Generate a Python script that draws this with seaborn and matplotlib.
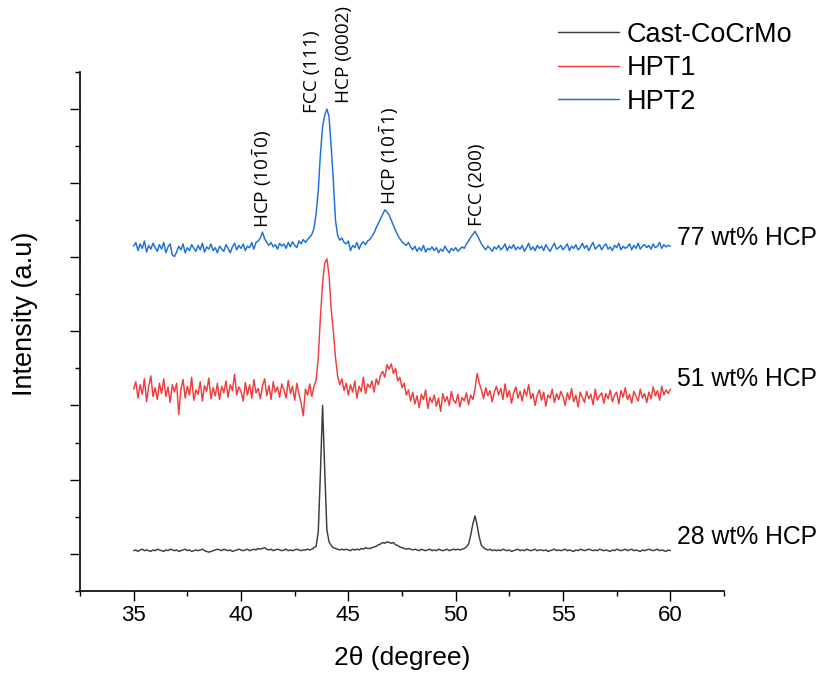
import numpy as np
import pandas as pd
import matplotlib
matplotlib.use("Agg")
import matplotlib.pyplot as plt
import seaborn as sns
from matplotlib.ticker import MultipleLocator

# 2-theta grid, 35.0 .. 60.0 in 0.1 deg steps (251 points)
two_theta = np.round(np.linspace(35.0, 60.0, 251), 1)

# intensities (arbitrary units, curves already stacked)
cast_cocrmo = [
    4, 5, 3, 5, 6, 4, 5, 4, 3, 5,
    4, 6, 5, 4, 3, 5, 4, 6, 5, 4,
    5, 3, 4, 5, 6, 4, 5, 3, 4, 5,
    4, 5, 6, 4, 3, 2, 3, 4, 5, 6,
    5, 4, 6, 5, 4, 5, 3, 4, 5, 6,
    5, 4, 5, 6, 4, 5, 6, 5, 7, 6,
    7, 8, 6, 5, 6, 4, 5, 6, 5, 4,
    5, 6, 4, 5, 4, 5, 6, 5, 4, 5,
    5, 6, 5, 6, 8, 10, 30, 110, 200, 112,
    32, 16, 11, 8, 7, 6, 5, 6, 5, 6,
    5, 4, 6, 5, 6, 5, 7, 6, 8, 7,
    7, 8, 9, 10, 12, 13, 15, 14, 16, 15,
    14, 15, 12, 11, 9, 8, 7, 6, 7, 6,
    5, 6, 5, 4, 6, 5, 4, 5, 6, 4,
    5, 4, 6, 5, 4, 5, 6, 4, 5, 6,
    5, 6, 5, 6, 7, 9, 13, 25, 40, 51,
    38, 22, 11, 8, 6, 5, 6, 4, 5, 4,
    5, 4, 6, 5, 4, 5, 3, 4, 5, 6,
    4, 5, 4, 6, 5, 4, 5, 6, 4, 5,
    5, 4, 5, 3, 4, 5, 6, 4, 5, 4,
    5, 6, 4, 5, 4, 3, 5, 4, 6, 5,
    4, 5, 6, 5, 4, 5, 4, 6, 5, 4,
    5, 4, 3, 5, 4, 6, 5, 4, 5, 6,
    4, 5, 6, 4, 5, 4, 3, 5, 4, 5,
    6, 5, 4, 5, 6, 4, 5, 4, 3, 5,
    4,
]

hpt1 = [
    222, 232, 210, 228, 215, 236, 205, 226, 240, 212,
    224, 208, 230, 216, 236, 212, 225, 204, 228, 218,
    230, 188, 222, 235, 210, 226, 214, 238, 207, 221,
    215, 232, 206, 227, 219, 237, 209, 224, 213, 230,
    208, 226, 217, 233, 211, 228, 220, 242, 214, 225,
    219, 206, 231, 214, 228, 210, 235, 217, 223, 209,
    226, 236, 213, 227, 208, 232, 218, 225, 211, 229,
    221, 210, 234, 216, 226, 207, 230, 215, 203, 186,
    222, 214, 229, 212, 226, 234, 265, 320, 365, 392,
    398, 376, 330, 300, 265, 240, 228, 236, 220, 230,
    214, 228, 218, 233, 210, 226, 219, 238, 216, 229,
    224, 233, 218, 236, 228, 241, 246, 238, 255, 249,
    256, 243, 250, 233, 238, 224, 230, 214, 221, 206,
    218, 202, 213, 197, 215, 208, 221, 196, 211, 204,
    214, 199, 210, 192, 216, 205, 212, 200, 219, 207,
    203, 215, 198, 211, 206, 217, 201, 214, 208, 222,
    243, 230, 221, 209, 224, 213, 220, 205, 218, 226,
    214, 223, 208, 229, 211, 220, 203, 217, 225, 210,
    219, 206, 222, 213, 228, 209, 216, 200, 214, 221,
    207, 218, 199, 214, 210, 222, 204, 216, 208, 219,
    212, 200, 217, 208, 223, 205, 214, 198, 218, 211,
    204, 219, 209, 215, 201, 222, 207, 213, 217, 203,
    216, 209, 221, 205, 214, 218, 202, 220, 211, 224,
    208, 215, 203, 219, 212, 206, 222, 210, 216, 204,
    218, 209, 225, 213, 220, 207, 226, 214, 221, 216,
    222,
]

hpt2 = [
    415, 420, 409, 418, 412, 422, 407, 416, 411, 419,
    413, 408, 417, 411, 420, 406, 414, 418, 403, 401,
    407, 415, 410, 418, 406, 413, 409, 417, 412, 408,
    416, 410, 419, 407, 414, 411, 418, 409, 413, 406,
    415, 411, 408, 417, 412, 406, 414, 419, 410, 416,
    412, 418, 409, 415, 413, 420, 411, 420, 422, 426,
    434, 425, 420, 416, 420, 414, 417, 411, 419, 415,
    418, 412, 420, 414, 421, 416, 413, 422, 418, 424,
    420, 424, 427, 431, 439, 459, 490, 540, 576, 592,
    600, 590, 549, 504, 450, 430, 423, 426, 420, 418,
    422, 409, 416, 413, 420, 411, 418, 421, 417, 422,
    424, 428, 433, 440, 446, 452, 458, 464, 461, 457,
    450, 443, 436, 430, 425, 421, 418, 416, 420, 414,
    410, 415, 408, 413, 409, 416, 407, 412, 410, 414,
    409, 413, 406, 411, 408, 415, 410, 406, 412, 409,
    413, 408, 411, 414, 412, 418, 422, 427, 431, 435,
    430, 424, 418, 414, 410, 415, 412, 408, 414, 411,
    416, 410, 413, 418, 409, 415, 412, 417, 410, 414,
    411, 416, 408, 413, 419, 410, 414, 409, 416, 412,
    415, 409, 417, 412, 408, 414, 419, 411, 413, 416,
    410, 414, 418, 409, 415, 412, 417, 410, 413, 419,
    412, 416, 409, 415, 420, 411, 414, 417, 410, 415,
    418, 411, 414, 409, 416, 413, 419, 410, 415, 412,
    414, 418, 410, 416, 412, 419, 411, 415, 417, 413,
    416, 411, 418, 413, 415, 420, 412, 417, 414, 416,
    415,
]

samples = ["Cast-CoCrMo", "HPT1", "HPT2"]
colors = ["#3c3c3c", "#f03c3c", "#1e6fdc"]
hcp_labels = ["28 wt% HCP", "51 wt% HCP", "77 wt% HCP"]
hcp_label_y = [23, 236, 426]

peak_labels = ["HCP (10$\\mathrm{\\bar{1}}$0)", "FCC (111)", "HCP (0002)",
               "HCP (10$\\mathrm{\\bar{1}}$1)", "FCC (200)"]
peak_x = [41.0, 43.3, 44.8, 46.88, 50.98]
peak_y = [439, 595, 608, 470, 442]

df = pd.DataFrame({
    "two_theta": np.concatenate([two_theta] * 3),
    "intensity": np.concatenate([cast_cocrmo, hpt1, hpt2]),
    "sample": np.repeat(samples, len(two_theta)),
})

sns.set_style("ticks")
plt.rcParams["font.family"] = ["Liberation Sans", "DejaVu Sans"]
plt.rcParams["mathtext.fontset"] = "custom"
plt.rcParams["mathtext.rm"] = "Open Sans"
plt.rcParams["mathtext.it"] = "Open Sans:italic"
for key in ["text.color", "axes.labelcolor", "xtick.color", "ytick.color",
            "xtick.labelcolor", "ytick.labelcolor"]:
    plt.rcParams[key] = "black"

fig = plt.figure(figsize=(8.3, 6.75), dpi=100)
ax = fig.add_axes([0.0964, 0.1249, 0.7759, 0.7684])

sns.lineplot(data=df, x="two_theta", y="intensity", hue="sample",
             hue_order=samples, palette=dict(zip(samples, colors)),
             estimator=None, sort=False, lw=1.05, ax=ax)

ax.set_xlim(32.5, 62.5)
ax.set_ylim(-50, 650)
ax.xaxis.set_major_locator(MultipleLocator(5))
ax.xaxis.set_minor_locator(MultipleLocator(2.5))
ax.yaxis.set_major_locator(MultipleLocator(100))
ax.yaxis.set_minor_locator(MultipleLocator(50))
ax.set_yticklabels([])
ax.tick_params(axis="both", which="major", length=7, width=1.0, labelsize=16, color="black")
ax.tick_params(axis="both", which="minor", length=3.5, width=1.0, color="black")
sns.despine(ax=ax)
for s in ["left", "bottom"]:
    ax.spines[s].set_linewidth(1.2)
    ax.spines[s].set_color("black")

ax.set_xlabel("2θ (degree)", fontsize=19, labelpad=14)
ax.set_ylabel("Intensity (a.u)", fontsize=19.5)
ax.yaxis.set_label_coords(-0.066, 0.534)

for txt, x, y in zip(peak_labels, peak_x, peak_y):
    ax.text(x, y, txt, rotation=90, ha="center", va="bottom",
            fontsize=13.7, family=["Open Sans", "DejaVu Sans"])

for txt, y in zip(hcp_labels, hcp_label_y):
    ax.text(60.3, y, txt, ha="left", va="center", fontsize=17.8, clip_on=False)

sns.move_legend(ax, loc="upper left", bbox_to_anchor=(0.672, 0.968),
                bbox_transform=fig.transFigure, frameon=False, title=None,
                fontsize=19.5, handlelength=2.25, handletextpad=0.3,
                labelspacing=0.28, borderpad=0, borderaxespad=0)

fig.savefig("out.png", dpi=100)
